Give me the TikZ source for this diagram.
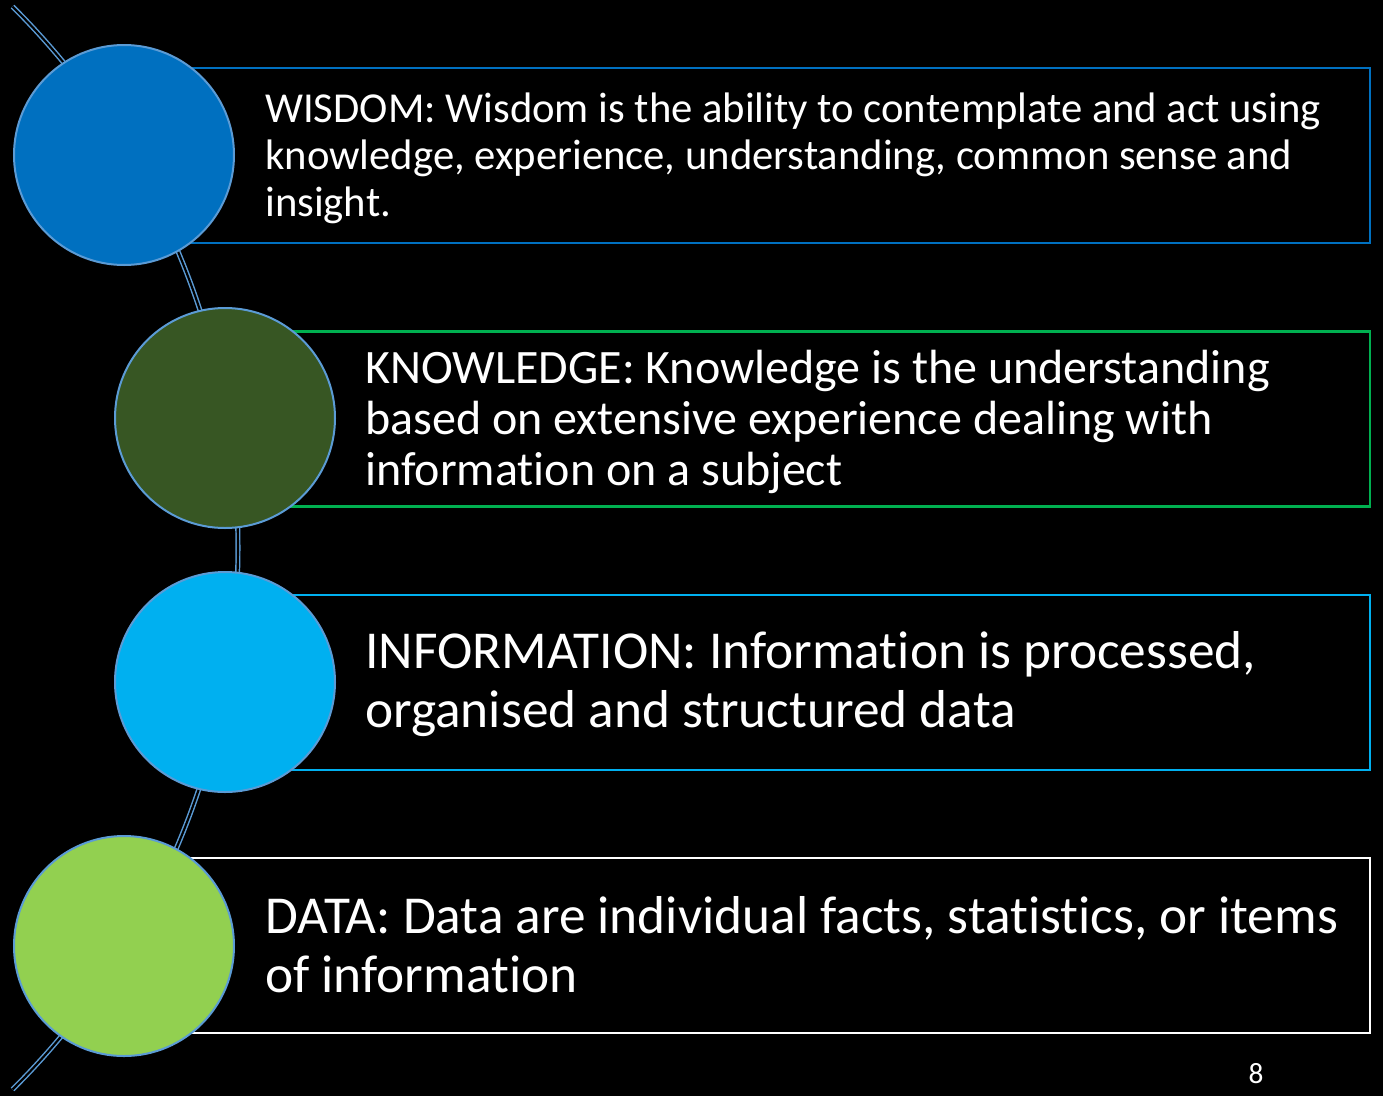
\documentclass[tikz,border=0pt]{standalone}
\usepackage{fontspec}
\setmainfont{Carlito}[Ligatures=NoCommon]
\usetikzlibrary{positioning}
\definecolor{wisblue}{HTML}{0070C0}
\definecolor{knowgreen}{HTML}{375623}
\definecolor{knowline}{HTML}{00B050}
\definecolor{infocyan}{HTML}{00B0F0}
\definecolor{datagreen}{HTML}{92D050}
\definecolor{ringedge}{HTML}{5B9BD5}

\begin{document}
\begin{tikzpicture}[x=0.75pt,y=-0.75pt,
	ring/.style={circle,draw=ringedge,line width=1.5pt,minimum size=165pt,inner sep=0pt},
	band/.style={draw=#1,line width=1.6pt,minimum height=131.25pt,inner sep=0pt},
	txt/.style={anchor=west,align=left,text=white,inner sep=0pt}]
	\fill[black] (0,0) rectangle (1383,1096);
	\useasboundingbox (0,0) rectangle (1383,1096);
	% the spine
	\draw[ringedge,line width=1.1pt,double=black,double distance=1.6pt] (-525,548) ++(45.2:763) arc[start angle=45.2,end angle=-45.2,radius=763];
	% bands
	\node[band=wisblue,minimum width=934.5pt] (wbox) at (747,155.5) {};
	\node[band=knowline,minimum width=858.75pt] (kbox) at (797.5,419) {};
	\node[band=infocyan,minimum width=858.75pt] (ibox) at (797.5,682.5) {};
	\node[band=white,minimum width=934.5pt] (dbox) at (747,945.5) {};
	% circles
	\node[ring,fill=wisblue] (wis) at (124,155) {};
	\node[ring,fill=knowgreen] (know) at (225,418) {};
	\node[ring,fill=infocyan] (info) at (225,682) {};
	\node[ring,fill=datagreen] (dat) at (124,946) {};
	% texts
	\node[txt,font=\fontsize{32}{35.25}\selectfont] (wtxt) at (265,158) {WISDOM: Wisdom is the ability to contemplate and act using\\knowledge, experience, understanding, common sense and\\insight.};
	\node[txt,font=\fontsize{36}{38.25}\selectfont] (ktxt) at (365,422) {KNOWLEDGE: Knowledge is the understanding\\based on extensive experience dealing with\\information on a subject};
	\node[txt,font=\fontsize{40}{44.25}\selectfont] (itxt) at (365,684) {INFORMATION: Information is processed,\\organised and structured data};
	\node[txt,font=\fontsize{40}{44.25}\selectfont] (dtxt) at (265,945) {DATA: Data are individual facts, statistics, or items\\of information};
	\node[text=white,font=\fontsize{22}{26}\selectfont] (pnum) at (1256,1074) {8};
\end{tikzpicture}
\end{document}
